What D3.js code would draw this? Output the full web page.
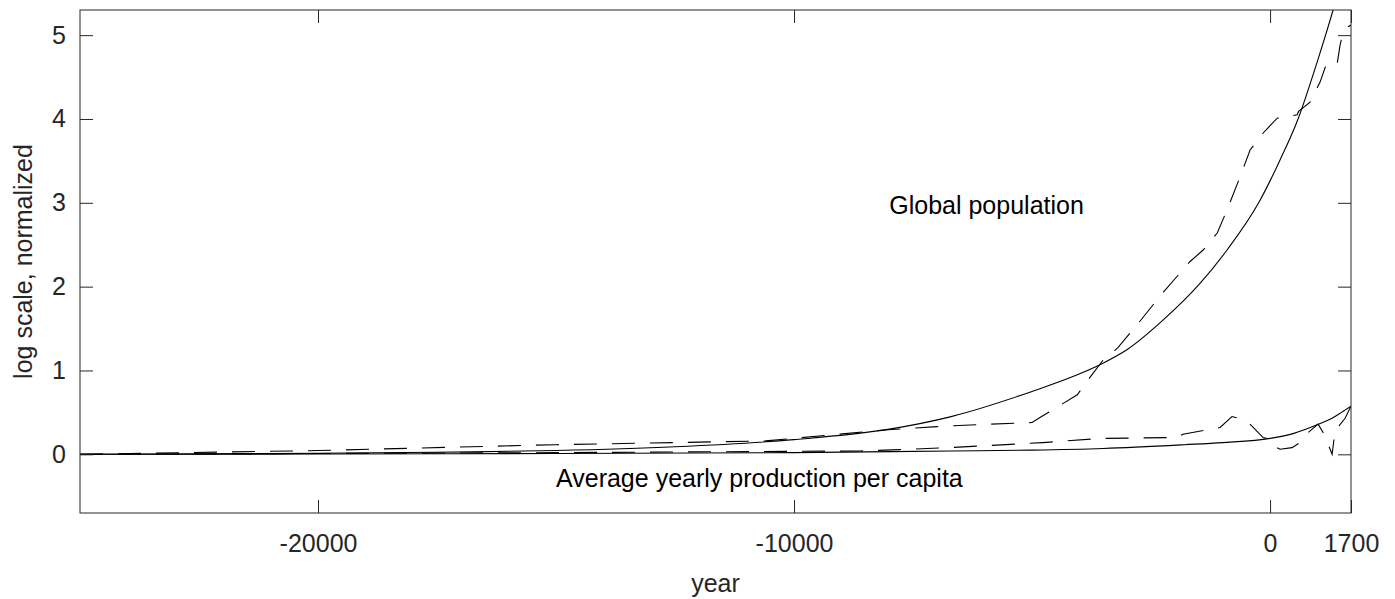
<!DOCTYPE html>
<html>
  <head>
    <title>Population and production</title>
    <meta charset="utf-8">
    <script src="https://cdn.jsdelivr.net/npm/d3@7/dist/d3.min.js"></script>
    <style>
      body { margin: 0; background: #fff; }
      .chart text { font-family: "Liberation Sans", Arial, sans-serif; font-size: 25px; fill: #262626; }
      .chart .note { fill: #000; }
      .chart .line { fill: none; stroke: #000; stroke-width: 1.1; }
      .chart .dashed { stroke-dasharray: 23, 15; }
    </style>
  </head>
  <body>
    <svg class="chart"></svg>
    <script>

    // global population, log scale normalized (model and data)
    var popModelYears = [-25000, -22500, -20000, -17500, -15000, -12500, -10000, -8000, -6700, -5000, -4000, -3500, -3000, -2250, -1500, -900, -240, 200, 588, 1000, 1324, 1450];
    var popModelValues = [0, 0.005, 0.012, 0.025, 0.045, 0.09, 0.175, 0.3, 0.45, 0.75, 0.96, 1.09, 1.25, 1.6, 2.02, 2.44, 3.0, 3.5, 4.0, 4.7, 5.3, 5.55];

    var popDataYears = [-25000, -20000, -15000, -12500, -10600, -8100, -7000, -6700, -5000, -4800, -4050, -3780, -3500, -3200, -2730, -2250, -1680, -1400, -1110, -900, -630, -420, -150, 150, 570, 600, 840, 1050, 1160, 1260, 1410, 1470, 1530, 1640, 1700];
    var popDataValues = [0, 0.045, 0.115, 0.14, 0.16, 0.29, 0.33, 0.34, 0.38, 0.45, 0.71, 0.92, 1.13, 1.27, 1.59, 1.93, 2.3, 2.44, 2.64, 2.92, 3.31, 3.63, 3.83, 4.01, 4.05, 4.09, 4.2, 4.44, 4.62, 4.68, 4.66, 4.88, 5.02, 5.1, 5.12];

    // average yearly production per capita (model and data)
    var prodModelYears = [-25000, -20000, -15000, -10000, -6700, -5000, -3500, -1800, -1000, 0, 500, 1000, 1300, 1500, 1700];
    var prodModelValues = [0, 0.003, 0.01, 0.02, 0.04, 0.05, 0.07, 0.115, 0.14, 0.19, 0.25, 0.355, 0.43, 0.5, 0.575];

    var prodDataYears = [-25000, -15000, -8600, -7780, -6940, -6725, -4770, -3570, -1950, -1830, -1050, -800, -525, -385, -147, 0, 42, 210, 462, 630, 800, 1009, 1114, 1219, 1303, 1366, 1576, 1700];
    var prodDataValues = [0, 0.02, 0.04, 0.056, 0.075, 0.08, 0.14, 0.19, 0.2, 0.24, 0.32, 0.45, 0.41, 0.34, 0.2, 0.18, 0.11, 0.06, 0.08, 0.14, 0.26, 0.36, 0.26, 0.12, 0.0, 0.28, 0.43, 0.575];

    var xTicks = [-20000, -10000, 0, 1700];
    var yTicks = [0, 1, 2, 3, 4, 5];

    var width = 1395,
        height = 599,
        margin = {top: 10, right: 44, bottom: 86, left: 80};

    var w = width - margin.left - margin.right,
        h = height - margin.top - margin.bottom;

    var x = d3.scaleLinear().domain([-25000, 1700]).range([0, w]);
    var y = d3.scaleLinear().domain([-0.7, 5.3]).range([h, 0]);

    var svg = d3.select(".chart")
      .attr("width", width)
      .attr("height", height);

    var g = svg.append("g")
      .attr("transform", "translate(" + margin.left + "," + margin.top + ")");

    g.append("clipPath").attr("id", "plot-clip")
      .append("rect").attr("width", w).attr("height", h);

    function pairs(xs, ys) {
      return xs.map(function(d, i) { return [d, ys[i]]; });
    }

    var smooth = d3.line()
      .curve(d3.curveMonotoneX)
      .x(function(d) { return x(d[0]); })
      .y(function(d) { return y(d[1]); });

    var straight = d3.line()
      .x(function(d) { return x(d[0]); })
      .y(function(d) { return y(d[1]); });

    var series = [
      {pts: pairs(popModelYears, popModelValues), dashed: false},
      {pts: pairs(popDataYears, popDataValues), dashed: true},
      {pts: pairs(prodModelYears, prodModelValues), dashed: false},
      {pts: pairs(prodDataYears, prodDataValues), dashed: true}
    ];

    g.append("g").attr("clip-path", "url(#plot-clip)")
      .selectAll("path")
      .data(series)
      .enter().append("path")
      .attr("class", function(d) { return d.dashed ? "line dashed" : "line"; })
      .attr("d", function(d) { return d.dashed ? straight(d.pts) : smooth(d.pts); });

    // axes, ticks pointing inward on all four sides
    function styleAxis(sel) {
      sel.attr("font-size", null).attr("font-family", null);
      sel.select(".domain").remove();
      sel.selectAll(".tick line").attr("stroke", "#262626");
    }

    var plain = function(d) { return String(d); };

    g.append("g")
      .attr("transform", "translate(0," + h + ")")
      .call(d3.axisBottom(x).tickValues(xTicks).tickFormat(plain).tickSizeInner(-13).tickSizeOuter(0).tickPadding(21))
      .call(styleAxis);

    g.append("g")
      .call(d3.axisTop(x).tickValues(xTicks).tickFormat("").tickSizeInner(-13).tickSizeOuter(0))
      .call(styleAxis);

    g.append("g")
      .call(d3.axisLeft(y).tickValues(yTicks).tickFormat(plain).tickSizeInner(-13).tickSizeOuter(0).tickPadding(14))
      .call(styleAxis);

    g.append("g")
      .attr("transform", "translate(" + w + ",0)")
      .call(d3.axisRight(y).tickValues(yTicks).tickFormat("").tickSizeInner(-13).tickSizeOuter(0))
      .call(styleAxis);

    g.append("rect")
      .attr("width", w)
      .attr("height", h)
      .attr("fill", "none")
      .attr("stroke", "#262626")
      .attr("stroke-width", 1);

    // labels
    g.append("text")
      .attr("class", "note")
      .attr("x", x(-8000))
      .attr("y", y(3))
      .attr("dy", "0.45em")
      .text("Global population");

    g.append("text")
      .attr("class", "note")
      .attr("x", x(-15000))
      .attr("y", y(-0.25))
      .attr("dy", "0.45em")
      .text("Average yearly production per capita");

    svg.append("text")
      .attr("x", margin.left + w / 2)
      .attr("y", 592)
      .attr("text-anchor", "middle")
      .text("year");

    svg.append("text")
      .attr("transform", "translate(32," + (margin.top + h / 2) + ") rotate(-90)")
      .attr("text-anchor", "middle")
      .text("log scale, normalized");

    </script>
  </body>
</html>
